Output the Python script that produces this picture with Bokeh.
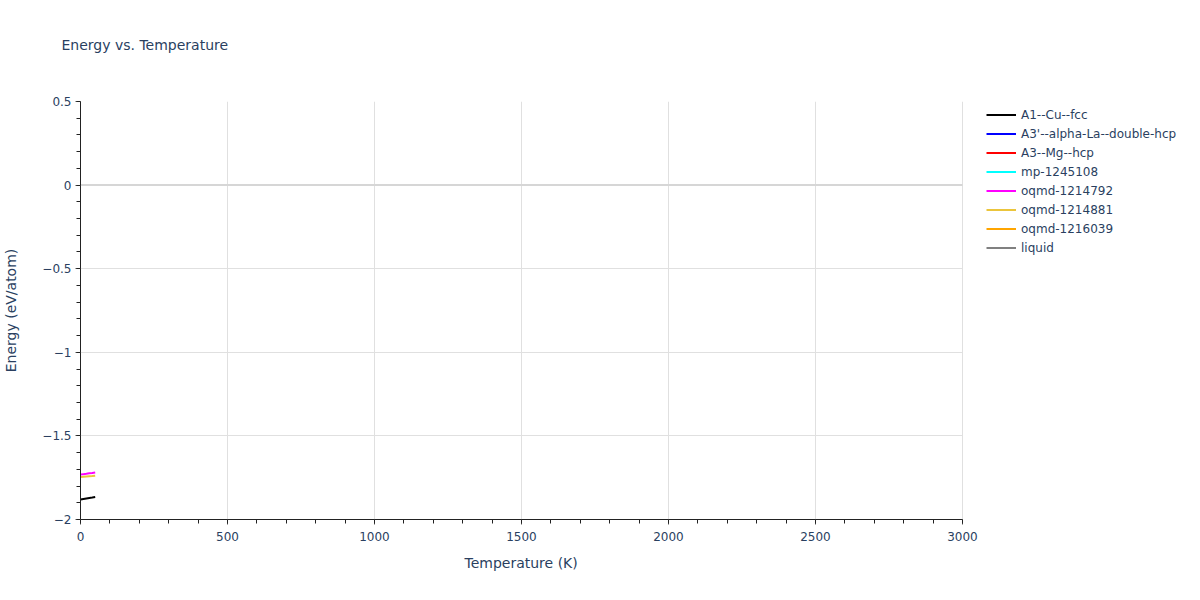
from bokeh.plotting import figure
from bokeh.models import (Range1d, Legend, LegendItem, Title, FixedTicker,
                          CustomJSTickFormatter)
from bokeh.embed import file_html
from bokeh.resources import INLINE

nan = float("nan")

# data
temps = [0, 10, 20, 30, 40, 50]
series_names = ["A1--Cu--fcc", "A3'--alpha-La--double-hcp", "A3--Mg--hcp",
                "mp-1245108", "oqmd-1214792", "oqmd-1214881", "oqmd-1216039", "liquid"]
series_colors = ["black", "blue", "red", "cyan", "magenta", "#ebc53c", "orange", "grey"]
energy_cu_fcc = [-1.880, -1.877, -1.874, -1.871, -1.869, -1.866]
energy_la_dhcp = [nan]
energy_mg_hcp = [nan]
energy_mp_1245108 = [nan]
energy_oqmd_1214792 = [-1.731, -1.729, -1.727, -1.724, -1.722, -1.719]
energy_oqmd_1214881 = [-1.746, -1.745, -1.743, -1.741, -1.740, -1.738]
energy_oqmd_1216039 = [nan]
energy_liquid = [nan]
series_values = [energy_cu_fcc, energy_la_dhcp, energy_mg_hcp, energy_mp_1245108,
                 energy_oqmd_1214792, energy_oqmd_1214881, energy_oqmd_1216039, energy_liquid]

x_ticks = [0, 500, 1000, 1500, 2000, 2500, 3000]
y_ticks = [-2, -1.5, -1, -0.5, 0, 0.5]

FONT = "DejaVu Sans"
TEXT = "#2a3f5f"

# the plot area is 882px for 0..3000 K; the frame is stretched to the right
# so the legend can sit inside it, axis and grid are bounded to 0..3000
FRAME_W = 1100
x_end = x_ticks[-1] * FRAME_W / 882

p = figure(width=80 + FRAME_W + 4, height=584, output_backend="svg", toolbar_location=None,
           x_range=Range1d(0, x_end), y_range=Range1d(-2, 0.5),
           min_border_left=80, min_border_right=4, min_border_top=101,
           min_border_bottom=65)
p.outline_line_color = None
p.background_fill_color = "white"

# zero line
p.segment(x0=[x_ticks[0]], y0=[0], x1=[x_ticks[-1]], y1=[0],
          line_color="#d6d6d6", line_width=2)

items = []
for name, color, vals in zip(series_names, series_colors, series_values):
    r = p.line(temps[:len(vals)], vals, line_color=color, line_width=2)
    items.append(LegendItem(label=name, renderers=[r]))

for ax in (p.xaxis[0], p.yaxis[0]):
    ax.axis_line_color = "#222222"
    ax.major_tick_line_color = "#555555"
    ax.minor_tick_line_color = "#222222"
    ax.major_tick_out = 5
    ax.major_tick_in = 0
    ax.minor_tick_out = 4
    ax.minor_tick_in = 0
    ax.major_label_text_font = FONT
    ax.major_label_text_font_size = "12px"
    ax.major_label_text_color = TEXT
    ax.axis_label_text_font = FONT
    ax.axis_label_text_font_size = "14px"
    ax.axis_label_text_color = TEXT
    ax.axis_label_text_font_style = "normal"

p.xaxis.bounds = (x_ticks[0], x_ticks[-1])
p.xaxis.ticker = FixedTicker(ticks=x_ticks, minor_ticks=list(range(0, 3001, 100)))
p.yaxis.ticker = FixedTicker(ticks=y_ticks,
                             minor_ticks=[round(-2 + 0.1 * i, 1) for i in range(26)])
p.yaxis.formatter = CustomJSTickFormatter(
    code="return (Math.round(tick * 10) / 10).toString().replace('-', '\u2212');")
p.xaxis.major_label_standoff = 7
p.yaxis.major_label_standoff = 4
p.yaxis.axis_label = "Energy (eV/atom)"
p.yaxis.axis_label_standoff = 20

p.xgrid.ticker = FixedTicker(ticks=x_ticks)
p.ygrid.ticker = FixedTicker(ticks=y_ticks)
p.ygrid.cross_bounds = (x_ticks[0], x_ticks[-1])
p.grid.grid_line_color = "#e0e0e0"
p.grid.grid_line_width = 1

# spacer next to the frame, then the chart title further up
p.add_layout(Title(text=" ", text_font=FONT, text_font_size="14px", standoff=31), "above")
p.add_layout(Title(text="Energy vs. Temperature", text_font=FONT, text_font_size="14px",
                   text_color=TEXT, text_font_style="normal", align="left",
                   offset=-19, standoff=0), "above")

# x axis title, centred under the 0..3000 part of the frame
p.add_layout(Title(text="Temperature (K)", text_font=FONT, text_font_size="14px",
                   text_color=TEXT, text_font_style="normal", align="left",
                   offset=384, standoff=18), "below")

legend = Legend(items=items, location=(906, 263), glyph_width=30, glyph_height=17,
                spacing=2, label_standoff=5, padding=0, margin=0,
                border_line_color=None, background_fill_alpha=0,
                label_text_font=FONT, label_text_font_size="12px",
                label_text_color=TEXT, label_height=17)
p.add_layout(legend)

open("out.html", "w").write(file_html(p, INLINE))
